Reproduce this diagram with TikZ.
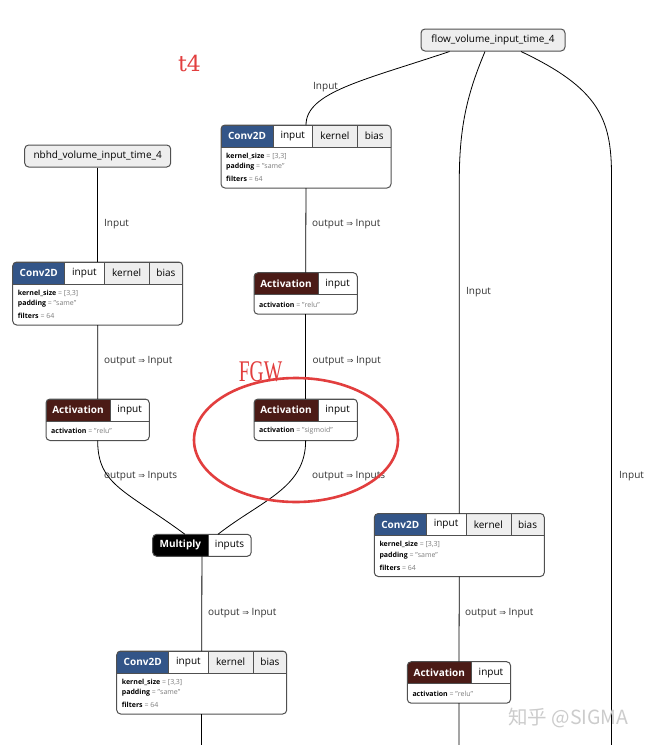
\documentclass[tikz,border=0pt]{standalone}
\usepackage{fontspec}
\setmainfont{Open Sans}
\newfontfamily\arrowfont{DejaVu Sans}
\newfontfamily\cjkfont{Noto Sans CJK SC}
\newfontfamily\redserif{DejaVu Serif}
\newfontfamily\redserifB{Liberation Serif}
\usetikzlibrary{calc}
\definecolor{convblue}{RGB}{51,85,136}
\definecolor{actbrown}{RGB}{75,27,22}
\definecolor{cellgray}{RGB}{238,238,238}
\definecolor{bordergray}{RGB}{80,80,80}
\definecolor{valgray}{RGB}{125,125,125}
\definecolor{markred}{RGB}{226,62,62}
\newcommand\hdrfont{\fontsize{10}{12}\selectfont}
\newcommand\propfont{\fontsize{7}{8}\selectfont}
\newcommand\imp{{\arrowfont\fontsize{8}{8}\selectfont ⇒}}
\tikzset{
  cell/.style={draw=bordergray, line width=0.6pt, inner sep=0pt, outer sep=0pt, minimum height=22pt, anchor=north west, font=\hdrfont, text=black},
  typecell/.style={cell, text=white, font=\hdrfont\bfseries},
  blockbox/.style={draw=bordergray, line width=1pt, rounded corners=4pt, inner sep=0pt, outer sep=0pt, anchor=north west},
  prop/.style={anchor=west, inner sep=0pt, font=\propfont, text=valgray},
  elabel/.style={anchor=west, inner sep=0pt, font=\hdrfont, text=black!80},
  edge/.style={draw=black, line width=0.8pt},
  inbox/.style={draw=bordergray, line width=1pt, fill=cellgray, rounded corners=4pt, minimum height=22pt, inner sep=0pt, font=\hdrfont},
}
\newcommand\convblock[3]{%
  \begin{scope}
    \clip[rounded corners=4pt] (#2,#3) rectangle ++(170,63);
    \node[typecell, fill=convblue, minimum width=52pt] (#1-type) at (#2,#3) {Conv2D};
    \node[cell, fill=white, minimum width=39.5pt] (#1-in) at (#1-type.north east) {input};
    \node[cell, fill=cellgray, minimum width=45pt] (#1-k) at (#1-in.north east) {kernel};
    \node[cell, fill=cellgray, minimum width=33.5pt] (#1-b) at (#1-k.north east) {bias};
  \end{scope}
  \node[blockbox, minimum width=170pt, minimum height=63pt] (#1) at (#2,#3) {};
  \node[prop] (#1-p1) at (#2+5,#3+31) {\textcolor{black}{\bfseries kernel\_size} = [3,3]};
  \node[prop] (#1-p2) at (#2+5,#3+42) {\textcolor{black}{\bfseries padding} = "same"};
  \node[prop] (#1-p3) at (#2+5,#3+54) {\textcolor{black}{\bfseries filters} = 64};
}
\newcommand\actblock[4]{%
  \begin{scope}
    \clip[rounded corners=4pt] (#2,#3) rectangle ++(103.3,41.5);
    \node[typecell, fill=actbrown, minimum width=64pt] (#1-type) at (#2,#3) {Activation};
    \node[cell, fill=white, minimum width=39.3pt] (#1-in) at (#1-type.north east) {input};
  \end{scope}
  \node[blockbox, minimum width=103.3pt, minimum height=41.5pt] (#1) at (#2,#3) {};
  \node[prop] (#1-p1) at (#2+5,#3+32) {\textcolor{black}{\bfseries activation} = "#4"};
}
\begin{document}
\begin{tikzpicture}[x=1pt, y=-1pt]
\useasboundingbox (0,0) rectangle (648,745);
\fill[white] (0,0) rectangle (648,745);

% input nodes
\node[inbox, minimum width=144pt] (flow) at (493,40) {flow\_volume\_input\_time\_4};
\node[inbox, minimum width=146pt] (nbhd) at (97.7,156) {nbhd\_volume\_input\_time\_4};

% free ends
\coordinate (rightend) at (611.5,745);
\coordinate (endA) at (201.7,745);
\coordinate (endB) at (459,745);

% blocks
\convblock{convM}{221}{125}
\convblock{convL}{12.7}{262}
\convblock{convR}{374.3}{513.5}
\convblock{convB}{116.7}{651}
\actblock{actL}{46}{399}{relu}
\actblock{actM1}{254}{272.7}{relu}
\actblock{actM2}{254}{399}{sigmoid}
\actblock{actR}{407.3}{661.7}{relu}

\begin{scope}
  \clip[rounded corners=4pt] (152.7,534.3) rectangle ++(98.5,22);
  \node[typecell, fill=black, minimum width=55.3pt] (mul-type) at (152.7,534.3) {Multiply};
  \node[cell, fill=white, minimum width=43.2pt] (mul-in) at (mul-type.north east) {inputs};
\end{scope}
\node[blockbox, minimum width=98.5pt, minimum height=22pt] (mul) at (152.7,534.3) {};

% edges
\draw[edge] ($(flow.south)+(-43.5,0)$) .. controls (365,80) and (306,92) .. (convM.north);
\draw[edge] ($(flow.south)+(-8,0)$) .. controls (468,92) and (459.3,125) .. (459.3,180) -- (convR.north);
\draw[edge] ($(flow.south)+(28,0)$) .. controls (598,88) and (611.5,118) .. (611.5,175) -- (rightend);
\draw[edge] (nbhd.south) -- (convL.north);
\draw[edge] (convL.south) -- (actL.north);
\draw[edge] (actL.south) .. controls (97.7,485) and (125,490) .. ($(mul.north)+(-17,0)$);
\draw[edge] (convM.south) -- (actM1.north);
\draw[edge] (actM1.south) -- (actM2.north);
\draw[edge] (actM2.south) .. controls (305.7,488) and (262,500) .. ($(mul.north)+(16,0)$);
\draw[edge] (mul.south) -- (convB.north);
\draw[edge] (convB.south) -- (endA);
\draw[edge] (convR.south) -- (actR.north);
\draw[edge] (actR.south) -- (endB);

% edge labels
\node[elabel] (lb1) at (313,87) {Input};
\node[elabel] (lb2) at (104,224) {Input};
\node[elabel] (lb3) at (312,224) {output \imp{} Input};
\node[elabel] (lb4) at (466,292) {Input};
\node[elabel] (lb5) at (104,361) {output \imp{} Input};
\node[elabel] (lb6) at (312.5,361) {output \imp{} Input};
\node[elabel] (lb7) at (104,476.5) {output \imp{} Inputs};
\node[elabel] (lb8) at (312,476.5) {output \imp{} Inputs};
\node[elabel] (lb9) at (619,476.5) {Input};
\node[elabel] (lb10) at (208,613.5) {output \imp{} Input};
\node[elabel] (lb11) at (465,613.5) {output \imp{} Input};

% red annotations
\node[font=\redserif\fontsize{22}{22}\selectfont, text=markred, inner sep=0pt] (t4) at (189.5,63) {t4};
\node[font=\redserifB\fontsize{30}{30}\selectfont, text=markred, xscale=0.65, inner sep=0pt] (fgw) at (260.5,372) {FGW};
\draw[markred, line width=2.6pt] (296,440) ellipse [x radius=102, y radius=62];

% watermark
\node[font=\cjkfont\fontsize{19.5}{20}\selectfont, text=black!20, anchor=west, inner sep=0pt] (wm) at (508,717.5) {知乎 @SIGMA};
\end{tikzpicture}
\end{document}
